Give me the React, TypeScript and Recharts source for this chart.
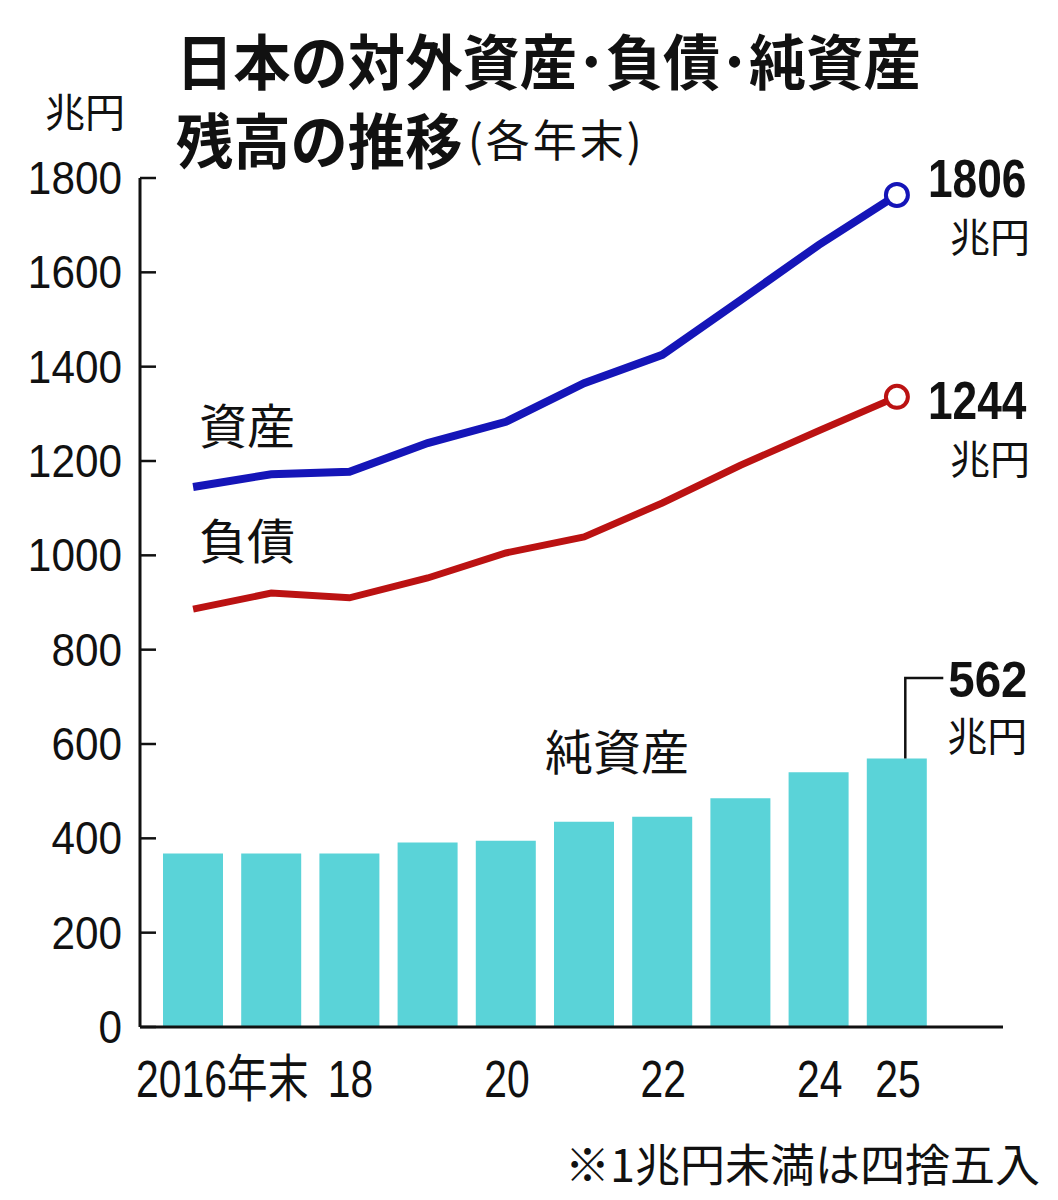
import React from 'react';
import { ComposedChart, Bar, Line, XAxis, YAxis, LabelList } from 'recharts';

const years = ['2016', '2017', '2018', '2019', '2020', '2021', '2022', '2023', '2024', '2025'];
const xTickLabels = ['2016年末', '', '18', '', '20', '', '22', '', '24', '25'];
const assets = [1145, 1172, 1177, 1238, 1283, 1365, 1425, 1541, 1658, 1764];
const liabilities = [886, 920, 910, 952, 1005, 1039, 1111, 1191, 1264, 1336];
const netAssets = [368, 368, 368, 391, 395, 435, 446, 485, 540, 569];
const yTicks = [0, 200, 400, 600, 800, 1000, 1200, 1400, 1600, 1800];
const assetsEndLabel = '1806';
const liabilitiesEndLabel = '1244';
const netEndLabel = '562';
const unit = '兆円';
const titleLine1 = '日本の対外資産･負債･純資産';
const titleLine2 = '残高の推移';
const titleNote = '(各年末)';
const seriesNames = { assets: '資産', liabilities: '負債', net: '純資産' };
const footnote = '※1兆円未満は四捨五入';

const data = years.map((y, i) => ({
  year: y,
  label: xTickLabels[i],
  assets: assets[i],
  liabilities: liabilities[i],
  net: netAssets[i],
}));

const BLUE = '#1515b8';
const RED = '#bb1212';
const CYAN = '#5ad3d8';
const INK = '#111';
const SANS = '"Liberation Sans", Arial, "Noto Sans CJK JP", sans-serif';
const CJK = '"Noto Sans CJK JP", sans-serif';

const YTick = (props: any) => {
  const { x, y, payload } = props;
  return (
    <g>
      <line x1={x} x2={x + 16} y1={y} y2={y} stroke={INK} strokeWidth={2.5} />
      <text
        transform={`translate(${x - 18},${y}) scale(0.92,1)`}
        textAnchor="end"
        dominantBaseline="central"
        fontFamily={SANS}
        fontSize={46}
        fill={INK}
      >
        {payload.value}
      </text>
    </g>
  );
};

const XTick = (props: any) => {
  const { x, y, index } = props;
  const label = xTickLabels[index];
  if (!label) return <g />;
  const first = index === 0;
  return (
    <text
      transform={`translate(${first ? x - 57 : x + 1},${y + 70}) scale(0.8,1)`}
      textAnchor={first ? 'start' : 'middle'}
      fontFamily={SANS}
      fontSize={51}
      fill={INK}
    >
      {label}
    </text>
  );
};

const makeDot = (color: string) => (props: any) => {
  const { cx, cy, index } = props;
  if (index !== years.length - 1) return <g key={`d${index}`} />;
  return <circle key={`d${index}`} cx={cx} cy={cy} r={11} fill="#fff" stroke={color} strokeWidth={4} />;
};

const makeEndLabel = (text: string, numDy: number, unitDy: number) => (props: any) => {
  const { x, y, index } = props;
  if (index !== years.length - 1) return null;
  return (
    <g>
      <text
        transform={`translate(${x + 31},${y + numDy}) scale(0.82,1)`}
        dominantBaseline="central"
        fontFamily={SANS}
        fontWeight={700}
        fontSize={54}
        fill={INK}
      >
        {text}
      </text>
      <text
        x={x + 133}
        y={y + unitDy}
        textAnchor="end"
        dominantBaseline="central"
        fontFamily={CJK}
        fontSize={40}
        fill={INK}
      >
        {unit}
      </text>
    </g>
  );
};

const NetLabel = (props: any) => {
  const { x, y, index } = props;
  if (index !== years.length - 1) return null;
  const lx = x + 38.5;
  const top = 678;
  return (
    <g>
      <polyline points={`${lx},${y} ${lx},${top} ${lx + 38},${top}`} fill="none" stroke={INK} strokeWidth={2.5} />
      <text
        transform={`translate(${lx + 43},${top + 2}) scale(0.95,1)`}
        dominantBaseline="central"
        fontFamily={SANS}
        fontWeight={700}
        fontSize={50}
        fill={INK}
      >
        {netEndLabel}
      </text>
      <text
        x={lx + 122}
        y={top + 56}
        textAnchor="end"
        dominantBaseline="central"
        fontFamily={CJK}
        fontSize={40}
        fill={INK}
      >
        {unit}
      </text>
    </g>
  );
};

export default function App() {
  return (
    <div style={{ position: 'absolute', left: 0, top: 0, width: 1058, height: 1200, background: '#fff' }}>
      <ComposedChart
        width={1058}
        height={1200}
        data={data}
        margin={{ top: 178, right: 55, bottom: 0, left: 0 }}
      >
        <XAxis
          dataKey="year"
          padding={{ left: 14, right: 67 }}
          height={173}
          axisLine={{ stroke: INK, strokeWidth: 3 }}
          tickLine={false}
          tickSize={0}
          tickMargin={0}
          interval={0}
          tick={<XTick />}
        />
        <YAxis
          domain={[0, 1800]}
          ticks={yTicks}
          width={140}
          axisLine={{ stroke: INK, strokeWidth: 3 }}
          tickLine={false}
          tickSize={0}
          tickMargin={0}
          interval={0}
          tick={<YTick />}
        />
        <Bar dataKey="net" fill={CYAN} barSize={60} isAnimationActive={false}>
          <LabelList dataKey="net" content={NetLabel} />
        </Bar>
        <Line
          type="linear"
          dataKey="assets"
          stroke={BLUE}
          strokeWidth={8}
          dot={makeDot(BLUE)}
          activeDot={false}
          isAnimationActive={false}
        >
          <LabelList dataKey="assets" content={makeEndLabel(assetsEndLabel, -17, 40)} />
        </Line>
        <Line
          type="linear"
          dataKey="liabilities"
          stroke={RED}
          strokeWidth={7}
          dot={makeDot(RED)}
          activeDot={false}
          isAnimationActive={false}
        >
          <LabelList dataKey="liabilities" content={makeEndLabel(liabilitiesEndLabel, 3, 60)} />
        </Line>
      </ComposedChart>
      <svg
        width={1058}
        height={1200}
        style={{ position: 'absolute', left: 0, top: 0, pointerEvents: 'none' }}
      >
        <text
          transform="translate(176,59) scale(0.955,1)"
          dominantBaseline="central"
          fontFamily={CJK}
          fontWeight={700}
          fontSize={60}
          fill={INK}
        >
          {titleLine1}
        </text>
        <text
          transform="translate(176,138) scale(0.955,1)"
          dominantBaseline="central"
          fontFamily={CJK}
          fontWeight={700}
          fontSize={60}
          fill={INK}
        >
          {titleLine2}
        </text>
        <text
          x={468}
          y={138}
          dominantBaseline="central"
          fontFamily={CJK}
          fontSize={44}
          letterSpacing={3}
          fill={INK}
        >
          {titleNote}
        </text>
        <text x={85} y={110} textAnchor="middle" dominantBaseline="central" fontFamily={CJK} fontSize={40} fill={INK}>
          {unit}
        </text>
        <text x={247} y={423} textAnchor="middle" dominantBaseline="central" fontFamily={CJK} fontSize={48} fill={INK}>
          {seriesNames.assets}
        </text>
        <text x={247} y={538} textAnchor="middle" dominantBaseline="central" fontFamily={CJK} fontSize={48} fill={INK}>
          {seriesNames.liabilities}
        </text>
        <text x={617} y={749} textAnchor="middle" dominantBaseline="central" fontFamily={CJK} fontSize={48} fill={INK}>
          {seriesNames.net}
        </text>
        <text x={1040} y={1162} textAnchor="end" dominantBaseline="central" fontFamily={CJK} fontSize={45} fill={INK}>
          {footnote}
        </text>
      </svg>
    </div>
  );
}
